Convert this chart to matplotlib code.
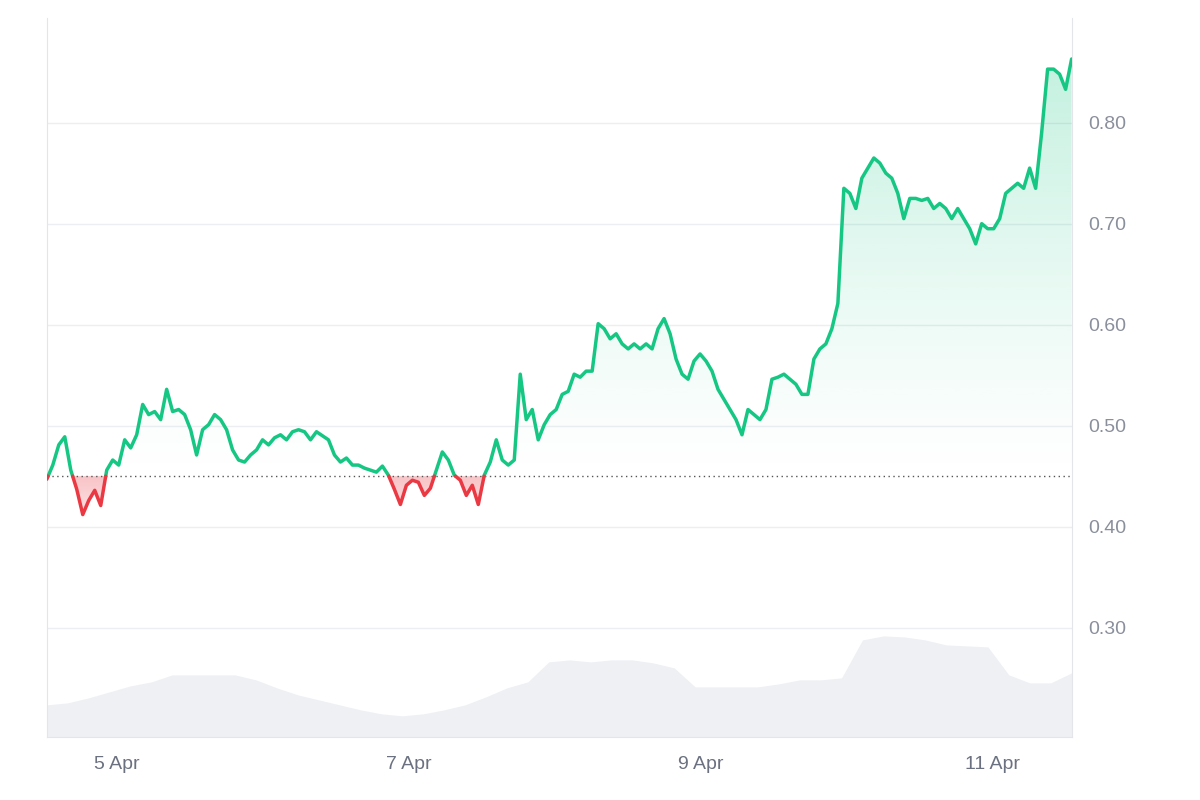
import matplotlib.pyplot as plt
import matplotlib.dates as mdates
import numpy as np
import pandas as pd
from matplotlib.patches import Polygon

plt.rcParams['font.family'] = ['Liberation Sans', 'DejaVu Sans']

# price, roughly hourly from 4 Apr 12:30 to 11 Apr 13:00
prices = [0.447, 0.461, 0.481, 0.489, 0.456, 0.437, 0.412, 0.426, 0.436, 0.421, 0.456, 0.466,
          0.461, 0.486, 0.478, 0.491, 0.521, 0.511, 0.514, 0.506, 0.536, 0.514, 0.516, 0.511,
          0.496, 0.471, 0.496, 0.501, 0.511, 0.506, 0.496, 0.476, 0.466, 0.464, 0.471, 0.476,
          0.486, 0.481, 0.488, 0.491, 0.486, 0.494, 0.496, 0.494, 0.486, 0.494, 0.490, 0.486,
          0.471, 0.464, 0.468, 0.461, 0.461, 0.458, 0.456, 0.454, 0.460, 0.451, 0.437, 0.422,
          0.441, 0.446, 0.444, 0.431, 0.438, 0.456, 0.474, 0.466, 0.451, 0.446, 0.431, 0.441,
          0.422, 0.451, 0.464, 0.486, 0.466, 0.461, 0.466, 0.551, 0.506, 0.516, 0.486, 0.501,
          0.511, 0.516, 0.531, 0.534, 0.551, 0.548, 0.554, 0.554, 0.601, 0.596, 0.586, 0.591,
          0.581, 0.576, 0.581, 0.576, 0.581, 0.576, 0.596, 0.606, 0.591, 0.566, 0.551, 0.546,
          0.564, 0.571, 0.564, 0.554, 0.536, 0.526, 0.516, 0.506, 0.491, 0.516, 0.511, 0.506,
          0.516, 0.546, 0.548, 0.551, 0.546, 0.541, 0.531, 0.531, 0.566, 0.576, 0.581, 0.596,
          0.621, 0.735, 0.730, 0.715, 0.745, 0.755, 0.765, 0.760, 0.750, 0.745, 0.730, 0.705,
          0.725, 0.725, 0.723, 0.725, 0.715, 0.720, 0.715, 0.705, 0.715, 0.705, 0.695, 0.680,
          0.700, 0.695, 0.695, 0.705, 0.730, 0.735, 0.740, 0.735, 0.755, 0.735, 0.790, 0.853,
          0.853, 0.848, 0.833, 0.863]

# volume profile (relative units), same time span
volume = [32, 34, 39, 45, 51, 55, 62, 62, 62, 62, 57, 49, 42, 37, 32, 27, 23, 21, 23, 27,
          32, 40, 49, 55, 75, 77, 75, 77, 77, 74, 69, 50, 50, 50, 50, 53, 57, 57, 59, 97,
          101, 100, 97, 92, 91, 90, 62, 54, 54, 64]

start = pd.Timestamp("2024-04-04 12:30")
end = pd.Timestamp("2024-04-11 13:00")
t = mdates.date2num(pd.date_range(start, end, periods=len(prices)))
tv = mdates.date2num(pd.date_range(start, end, periods=len(volume)))
p = np.array(prices)
base = 0.45

GREEN = "#16c784"
RED = "#ea3943"
GREY_TXT = "#8a8f9c"

fig = plt.figure(figsize=(12, 8), dpi=100)
ax = fig.add_axes([0.039, 0.079, 0.854, 0.899])
axv = ax.twinx()
axv.set_zorder(0)
ax.set_zorder(1)
ax.patch.set_visible(False)

axv.fill_between(tv, 0, volume, color="#eef0f4", lw=0)
axv.set_ylim(0, 720)
axv.set_yticks([])
for s in axv.spines.values():
    s.set_visible(False)

ymin, ymax = 0.192, 0.904
ax.set_xlim(t[0], t[-1])
ax.set_ylim(ymin, ymax)

# insert crossings so colouring splits cleanly at the baseline
tt, pp = [t[0]], [p[0]]
for i in range(1, len(p)):
    if (p[i - 1] - base) * (p[i] - base) < 0:
        f = (base - p[i - 1]) / (p[i] - p[i - 1])
        tt.append(t[i - 1] + f * (t[i] - t[i - 1]))
        pp.append(base)
    tt.append(t[i])
    pp.append(p[i])
tt, pp = np.array(tt), np.array(pp)

# gradient fills
for above, col in [(True, GREEN), (False, RED)]:
    yy = np.maximum(pp, base) if above else np.minimum(pp, base)
    verts = np.column_stack([np.r_[tt, tt[::-1]], np.r_[yy, np.full(len(tt), base)]])
    poly = Polygon(verts, closed=True, fc="none", ec="none")
    ax.add_patch(poly)
    rgb = np.array(plt.matplotlib.colors.to_rgb(col))
    grad = np.zeros((256, 1, 4))
    grad[:, 0, :3] = rgb
    if above:
        grad[:, 0, 3] = np.linspace(0.32, 0.0, 256) ** 1.2
        ext = (t[0], t[-1], base, p.max())
    else:
        grad[:, 0, 3] = np.linspace(0.3, 0.15, 256)
        ext = (t[0], t[-1], p.min(), base)
        grad = grad[::-1]
    im = ax.imshow(grad, extent=ext, aspect="auto", origin="upper" if above else "lower", zorder=2)
    im.set_clip_path(poly)

ax.plot(tt, np.where(pp >= base, pp, np.nan), color=GREEN, lw=2.5, zorder=4, solid_capstyle="round")
ax.plot(tt, np.where(pp <= base, pp, np.nan), color=RED, lw=2.5, zorder=4, solid_capstyle="round")
ax.axhline(base, color="#555555", lw=1, ls=(0, (1, 2.5)), zorder=3)
ax.set_xlim(t[0], t[-1])
ax.set_ylim(ymin, ymax)

ax.yaxis.tick_right()
ax.set_yticks([0.3, 0.4, 0.5, 0.6, 0.7, 0.8])
ax.set_yticklabels(["0.30", "0.40", "0.50", "0.60", "0.70", "0.80"])
ax.grid(axis="y", color="#eceef2", lw=1)
ax.set_axisbelow(True)
ax.tick_params(axis="y", length=0, pad=12, labelsize=14, labelcolor=GREY_TXT)
ticks = [mdates.date2num(pd.Timestamp(d)) for d in ["2024-04-05", "2024-04-07", "2024-04-09", "2024-04-11"]]
ax.set_xticks(ticks)
ax.set_xticklabels(["5 Apr", "7 Apr", "9 Apr", "11 Apr"])
ax.tick_params(axis="x", length=0, pad=14, labelsize=14, labelcolor="#6b7180")
for side in ["left", "right", "bottom"]:
    ax.spines[side].set_color("#e3e5ea")
ax.spines["top"].set_visible(False)

fig.savefig("out.png", dpi=100, facecolor="white")
